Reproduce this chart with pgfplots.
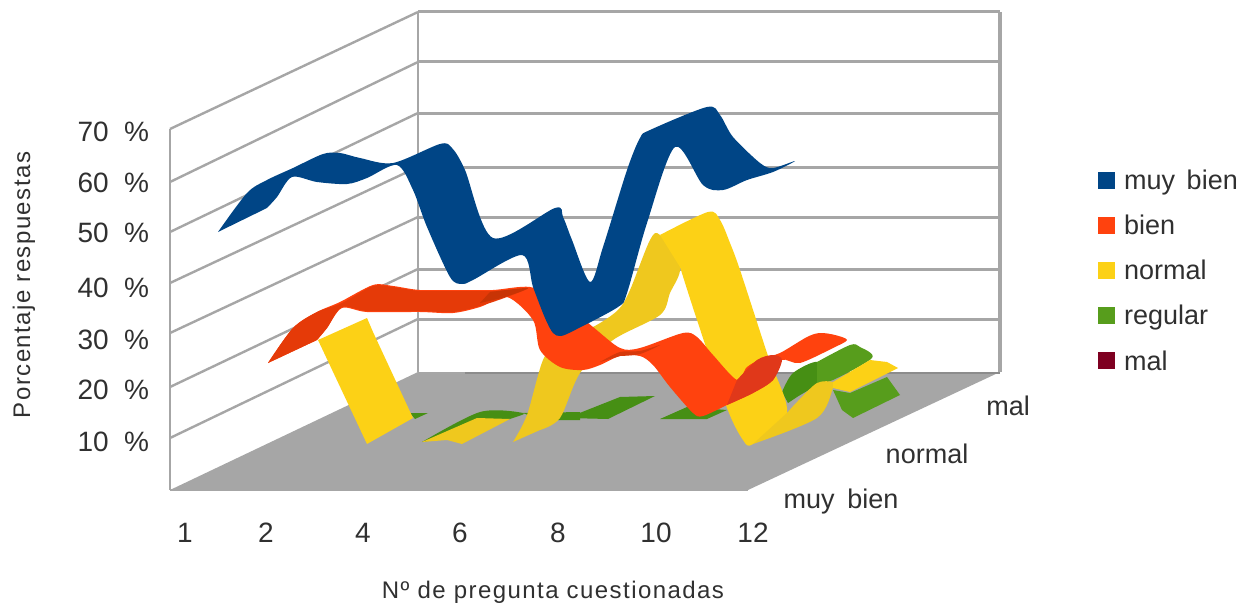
\documentclass[border=0pt]{standalone}
\usepackage{pgfplots}
\usepackage{fontspec}
\pgfplotsset{compat=1.18}
\setmainfont{Liberation Sans}
\newfontfamily\lsfont[LetterSpace=6]{Liberation Sans}
\definecolor{muyb}{HTML}{004586}
\definecolor{bien}{HTML}{FF420E}
\definecolor{biena}{HTML}{E53A08}
\definecolor{bienb}{HTML}{C83405}
\definecolor{bienc}{HTML}{E0381A}
\definecolor{biend}{HTML}{D6380A}
\definecolor{norm}{HTML}{FCD116}
\definecolor{normd}{HTML}{EFC81E}
\definecolor{regu}{HTML}{579D1C}
\definecolor{regd}{HTML}{468F14}
\definecolor{malc}{HTML}{7E0021}
\definecolor{grid}{HTML}{A6A6A6}
\definecolor{floorc}{HTML}{A6A6A6}
\definecolor{txt}{HTML}{303030}
\pgfplotsset{
  rib/.style={draw=none,no marks,forget plot,smooth,tension=0.5,fill=#1},
  ribs/.style={draw=none,no marks,forget plot,sharp plot,fill=#1},
  gl/.style={no marks,forget plot,color=grid,line width=#1},
}
\begin{document}
\begin{tikzpicture}
\path[use as bounding box] (0,0) rectangle (1250pt,610pt);
\begin{axis}[
  at={(0,0)},anchor=south west,
  scale only axis,width=1250pt,height=610pt,
  xmin=0,xmax=1250,ymin=0,ymax=610,y dir=reverse,
  clip=false,
  axis line style={draw=none},
  major tick length=0pt,
  xticklabel pos=upper,
  xtick={185,266,363,460,558,656,753},
  xticklabels={1,2,4,6,8,10,12},
  xticklabel style={font=\fontsize{28}{30}\selectfont,text=txt,anchor=center,yshift=-533pt},
  ytick={132,183,233,288,340,390,442},
  yticklabels={70~~\%,60~~\%,50~~\%,40~~\%,30~~\%,20~~\%,10~~\%},
  yticklabel style={font=\fontsize{28}{30}\selectfont,text=txt,anchor=west,xshift=74pt},
  xlabel={Nº de pregunta cuestionadas},
  xlabel style={at={(axis description cs:0.4424,0.0295)},anchor=center,font=\lsfont\fontsize{24}{28}\selectfont,text=txt},
  ylabel={Porcentaje respuestas},
  ylabel style={at={(axis description cs:0.0192,0.5328)},anchor=center,font=\lsfont\fontsize{24}{28}\selectfont,text=txt},
  legend style={at={(axis cs:1098,168)},anchor=north west,draw=none,fill=none,
    font=\fontsize{27}{30}\selectfont,text=txt,row sep=20pt,column sep=7pt,inner sep=0pt},
  legend cell align=left,
  legend image code/.code={\fill[draw=none,#1] (0pt,-8.5pt) rectangle (17pt,8.5pt);},
]
\addlegendimage{fill=muyb,draw=none}\addlegendentry{muy\hspace{0.15em} bien}
\addlegendimage{fill=bien,draw=none}\addlegendentry{bien}
\addlegendimage{fill=norm,draw=none}\addlegendentry{normal}
\addlegendimage{fill=regu,draw=none}\addlegendentry{regular}
\addlegendimage{fill=malc,draw=none}\addlegendentry{mal}

% floor
\addplot[draw=none,no marks,forget plot,fill=floorc] coordinates {(170,490)(418,372)(1000,372)(748,490)} --cycle;
% back wall
\addplot[gl=3pt] coordinates {(418,12)(1000,12)};
\addplot[gl=3pt] coordinates {(418,62)(1000,62)};
\addplot[gl=3pt] coordinates {(418,113)(1000,113)};
\addplot[gl=3pt] coordinates {(418,167)(1000,167)};
\addplot[gl=3pt] coordinates {(418,217)(1000,217)};
\addplot[gl=3pt] coordinates {(418,269)(1000,269)};
\addplot[gl=3pt] coordinates {(418,319)(1000,319)};
\addplot[no marks,forget plot,color=black!45,line width=2pt] coordinates {(465,373)(1000,373)};
\addplot[gl=2.6pt] coordinates {(418,12)(418,372)};
\addplot[gl=3.6pt] coordinates {(1000,12)(1000,372)};
% left wall
\addplot[gl=2.4pt] coordinates {(170,129)(170,490)};
\addplot[gl=2.4pt] coordinates {(170,129)(418,12)};
\addplot[gl=2.4pt] coordinates {(170,182)(418,62)};
\addplot[gl=2.4pt] coordinates {(170,232)(418,113)};
\addplot[gl=2.4pt] coordinates {(170,283)(418,167)};
\addplot[gl=2.4pt] coordinates {(170,333)(418,217)};
\addplot[gl=2.4pt] coordinates {(170,387)(418,269)};
\addplot[gl=2.4pt] coordinates {(170,438)(418,319)};
\addplot[gl=2.4pt] coordinates {(170,490)(748,490)};

% regular
\addplot[ribs=regd] coordinates {(410,413)(428,413)(415,419)} --cycle;
\addplot[rib=regd] coordinates {(422,442)(480,412)(523,413)(510,419)(462,436)} --cycle;
\addplot[ribs=regd] coordinates {(523,413)(580,412)(580,420)(540,420)} --cycle;
\addplot[ribs=regd] coordinates {(567,418)(620,397)(655,396)(608,419)} --cycle;
\addplot[ribs=regd] coordinates {(660,419)(687,407)(727,410)(707,419)} --cycle;
\addplot[ribs=regu] coordinates {(833,390)(850,393)(887,377)(900,395)(853,418)(842,410)} --cycle;
\addplot[rib=regd] coordinates {(782,392)(793,373)(817,362)(817,383)(797,397)(788,403)} --cycle;
\addplot[rib=regu] coordinates {(817,362)(850,345)(860,347)(872,358)(833,380)(817,383)} --cycle;

% normal
\addplot[ribs=norm] coordinates {(318,340)(367,318)(373,332)(413,418)(367,444)} --cycle;
\addplot[ribs=normd] coordinates {(422,442)(477,418)(510,419)(462,444)(447,440)} --cycle;
\addplot[rib=normd] coordinates {(513,442)(527,415)(543,360)(560,340)(593,327)(618,310)(630,290)(650,240)(660,235)(680,267)(670,293)(660,315)(613,340)(580,373)(560,418)(540,430)} --cycle;
\addplot[rib=norm] coordinates {(660,235)(708,212)(720,220)(730,243)(740,270)(767,353)(787,413)(753,444)(743,440)(727,408)(697,320)(680,267)} --cycle;
\addplot[rib=normd] coordinates {(753,444)(817,418)(833,388)(833,382)(817,383)(797,402)(787,413)} --cycle;
\addplot[ribs=norm] coordinates {(833,382)(870,360)(887,362)(898,368)(850,392)(833,388)} --cycle;

% bien
\addplot[rib=bien] coordinates {(268,363)(293,328)(317,312)(340,302)(373,285)(393,286)(420,290)(460,290)(493,290)(530,287)(560,300)(593,327)(620,348)(640,348)(683,333)(697,337)(713,355)(737,380)(747,367)(763,358)(780,353)(807,337)(820,333)(835,335)(847,340)(833,348)(800,363)(782,360)(773,380)(753,393)(727,405)(703,416)(693,413)(670,387)(653,365)(640,356)(620,356)(600,365)(583,370)(560,367)(540,350)(533,320)(507,297)(480,307)(453,313)(420,312)(367,312)(342,308)(327,328)(317,340)} --cycle;
\addplot[rib=biena] coordinates {(268,363)(293,328)(317,312)(342,303)(373,286)(393,287)(420,291)(460,291)(493,291)(525,289)(507,297)(480,306)(453,312)(420,311)(367,311)(342,307)(327,328)(317,340)} --cycle;
\addplot[rib=bienb] coordinates {(490,292)(528,288)(505,297)(480,303)} --cycle;
\addplot[rib=bienc] coordinates {(737,380)(757,360)(773,355)(782,360)(773,380)(753,393)(727,405)} --cycle;
\addplot[rib=biend] coordinates {(600,362)(620,352)(640,351)(660,345)(640,354)(620,356)} --cycle;

% muy bien
\addplot[rib=muyb] coordinates {(218,232)(247,193)(267,180)(293,168)(323,154)(340,153)(360,158)(393,163)(440,144)(452,148)(465,170)(493,238)(555,208)(563,217)(572,240)(590,282)(603,247)(627,170)(640,138)(650,130)(707,107)(720,115)(733,137)(760,163)(773,168)(795,161)(773,172)(747,180)(723,190)(703,185)(675,147)(647,223)(627,293)(618,307)(575,330)(561,336)(553,333)(545,318)(533,287)(522,255)(473,280)(462,284)(450,277)(427,227)(413,190)(397,165)(367,178)(347,184)(317,182)(292,177)(277,197)(267,208)} --cycle;

\node[font=\fontsize{27}{30}\selectfont,text=txt,anchor=center] at (axis cs:841,502) {muy\hspace{0.2em} bien};
\node[font=\fontsize{27}{30}\selectfont,text=txt,anchor=center] at (axis cs:927,454) {normal};
\node[font=\fontsize{27}{30}\selectfont,text=txt,anchor=center] at (axis cs:1008,406) {mal};
\end{axis}
\end{tikzpicture}
\end{document}
